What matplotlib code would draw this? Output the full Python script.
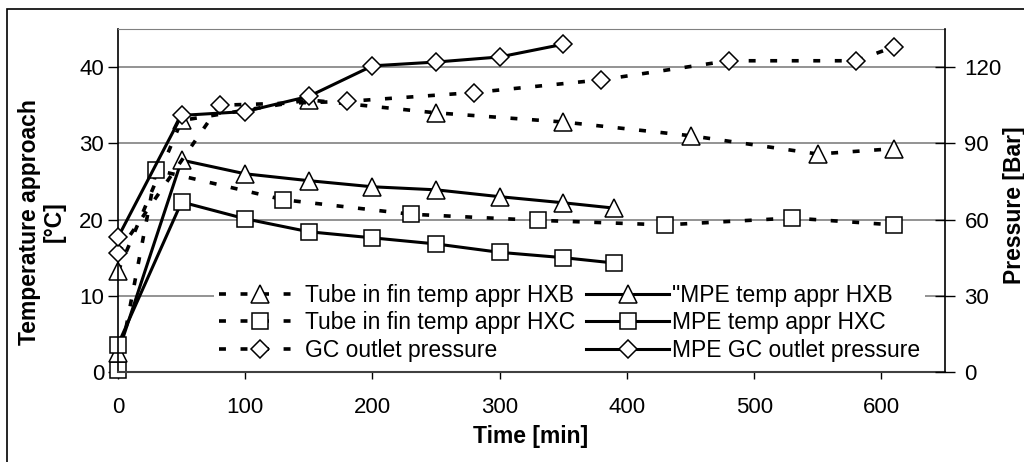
import matplotlib
matplotlib.use("Agg")
import matplotlib.pyplot as plt
from matplotlib.patches import Rectangle

plt.rcParams['font.family'] = ['Liberation Sans', 'DejaVu Sans']
plt.rcParams['lines.scale_dashes'] = False

# tube in fin (dashed) series
t_tube_hxb = [0, 50, 150, 250, 350, 450, 550, 610]
tube_hxb = [13.2, 33.0, 35.7, 34.0, 32.8, 31.0, 28.6, 29.3]

t_tube_hxc = [0, 30, 130, 230, 330, 430, 530, 610]
tube_hxc = [0.3, 26.5, 22.6, 20.7, 19.9, 19.3, 20.2, 19.3]

t_tube_gc = [0, 80, 180, 280, 380, 480, 580, 610]
tube_gc = [47, 105, 106.5, 110, 115, 122.5, 122.5, 128]

# MPE (solid) series
t_mpe = [0, 50, 100, 150, 200, 250, 300, 350, 390]
mpe_hxb = [2.5, 27.8, 26.0, 25.1, 24.3, 23.9, 23.0, 22.2, 21.5]
mpe_hxc = [3.6, 22.3, 20.1, 18.4, 17.6, 16.8, 15.7, 15.0, 14.3]

t_mpe_gc = [0, 50, 100, 150, 200, 250, 300, 350]
mpe_gc = [53, 101, 102.5, 108.5, 120.5, 122, 124, 129]

W, H = 1024, 462
fig = plt.figure(figsize=(W / 100, H / 100), dpi=100)
ax = fig.add_axes([118 / W, 1 - 372 / H, (945 - 118) / W, (372 - 29) / H])
ax2 = ax.twinx()

dash = (0, (5, 10.5))
kw_d = dict(color='black', lw=2.6, linestyle=dash, dash_capstyle='butt',
            markerfacecolor='white', markeredgecolor='black', markeredgewidth=1.1,
            clip_on=False)
kw_s = dict(color='black', lw=2.2, linestyle='-',
            markerfacecolor='white', markeredgecolor='black', markeredgewidth=1.1,
            clip_on=False)

l1, = ax.plot(t_tube_hxb, tube_hxb, marker='^', ms=13, label='Tube in fin temp appr HXB', **kw_d)
l2, = ax.plot(t_tube_hxc, tube_hxc, marker='s', ms=11, label='Tube in fin temp appr HXC', **kw_d)
l3, = ax2.plot(t_tube_gc, tube_gc, marker='D', ms=9.5, label='GC outlet pressure', **kw_d)
l4, = ax.plot(t_mpe, mpe_hxb, marker='^', ms=13, label='"MPE temp appr HXB', **kw_s)
l5, = ax.plot(t_mpe, mpe_hxc, marker='s', ms=11, label='MPE temp appr HXC', **kw_s)
l6, = ax2.plot(t_mpe_gc, mpe_gc, marker='D', ms=9.5, label='MPE GC outlet pressure', **kw_s)

ax.set_xlim(0, 650)
ax.set_ylim(0, 45)
ax2.set_ylim(0, 135)
ax.set_xticks([0, 100, 200, 300, 400, 500, 600])
ax.set_yticks([0, 10, 20, 30, 40])
ax2.set_yticks([0, 30, 60, 90, 120])

ax.yaxis.grid(True, color='#808080', lw=1.2)
ax.set_axisbelow(True)

ax.spines['top'].set_color('#808080')
ax2.spines['top'].set_visible(False)
ax.spines['right'].set_visible(False)
ax2.spines['left'].set_visible(False)
ax2.spines['bottom'].set_visible(False)
ax.spines['bottom'].set_color('#404040')
ax.spines['bottom'].set_linewidth(1.5)
ax.spines['left'].set_linewidth(1.2)
ax2.spines['right'].set_linewidth(1.2)

ax.tick_params(axis='y', direction='out', length=7, width=1, pad=3, labelsize=16)
ax.tick_params(axis='x', direction='out', length=5, width=1, pad=13, labelsize=16)
ax2.tick_params(axis='y', direction='inout', length=14, width=1, pad=7, labelsize=16)

fig.text(42 / W, 1 - 222 / H, 'Temperature approach\n[°C]', rotation=90,
         ha='center', va='center', fontsize=16.5, fontweight='bold',
         multialignment='center', linespacing=1.1)
fig.text(531 / W, 1 - 436 / H, 'Time [min]', ha='center', va='center',
         fontsize=16.5, fontweight='bold')
fig.text(1014 / W, 1 - 205 / H, 'Pressure [Bar]', rotation=90, ha='center',
         va='center', fontsize=16.5, fontweight='bold')

leg = ax2.legend(handles=[l1, l2, l3, l4, l5, l6], ncol=2, loc='center',
                 bbox_to_anchor=(0.546, 0.143), fontsize=16.5, frameon=True,
                 handlelength=3.6, handletextpad=0.15, columnspacing=0.5,
                 labelspacing=0.2, borderpad=0.2, numpoints=1)
leg.get_frame().set_facecolor('white')
leg.get_frame().set_edgecolor('none')
leg.get_frame().set_alpha(1)

fig.add_artist(Rectangle((7 / W, -0.5), 2, 1.5 - 9 / H, transform=fig.transFigure,
                         fill=False, edgecolor='black', lw=1.2))

fig.savefig('out.png', dpi=100)
